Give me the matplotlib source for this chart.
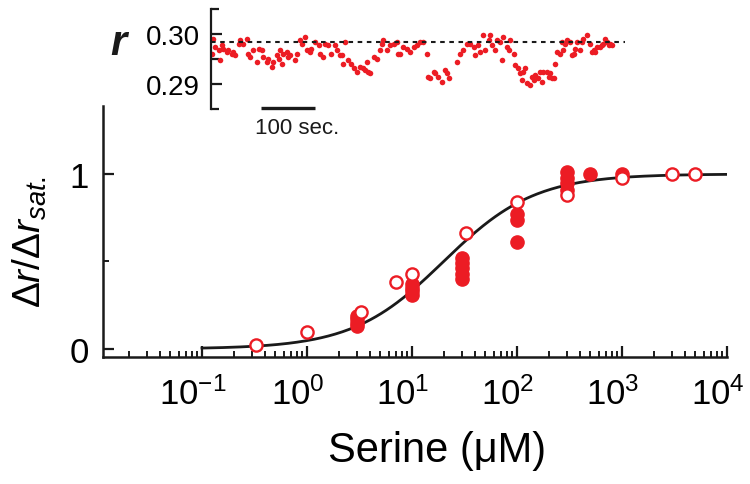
import matplotlib
matplotlib.use('Agg')
import matplotlib.pyplot as plt
import matplotlib.transforms as mtransforms
import numpy as np
from matplotlib.ticker import LogLocator, FixedLocator, NullFormatter

plt.rcParams['font.family'] = ['Liberation Sans', 'DejaVu Sans']
plt.rcParams['mathtext.fontset'] = 'custom'
plt.rcParams['mathtext.rm'] = 'Liberation Sans'
plt.rcParams['mathtext.it'] = 'Liberation Sans:italic'
plt.rcParams['mathtext.bf'] = 'Liberation Sans:bold'

red = '#ec1c24'
ink = '#1a1a1a'

# dose response (filled and open symbols = two data sets)
serine_filled = [3, 3, 3, 3, 10, 10, 10, 10, 30, 30, 30, 30, 30,
                 100, 100, 100, 300, 300, 300, 300, 500, 1000]
resp_filled = [0.13, 0.15, 0.17, 0.19, 0.31, 0.33, 0.35, 0.37, 0.40, 0.43, 0.46, 0.49, 0.52,
               0.61, 0.74, 0.77, 0.91, 0.95, 0.98, 1.01, 1.0, 1.0]
serine_open = [0.33, 1, 3.3, 7, 10, 33, 100, 300, 1000, 3000, 5000]
resp_open = [0.02, 0.097, 0.21, 0.38, 0.43, 0.66, 0.84, 0.88, 0.975, 1.0, 1.0]

# Hill fit parameters
k_half = 20.0
hill_n = 1.0

# inset: anisotropy trace
t_sec = [1, 4, 7, 14, 17, 20, 23, 29, 32, 38, 41, 44, 51, 54, 60, 66, 69, 72, 78, 85,
         88, 94, 97, 103, 106, 112, 115, 122, 125, 128, 131, 134, 140, 143, 146, 156, 159, 165, 168, 174,
         177, 183, 186, 193, 199, 202, 208, 211, 217, 223, 230, 233, 239, 242, 245, 248, 254, 260, 264, 270,
         276, 282, 285, 288, 291, 294, 301, 307, 313, 316, 319, 325, 331, 338, 344, 347, 350, 356, 362, 369,
         375, 381, 387, 393, 399, 402, 406, 412, 415, 421, 427, 433, 436, 440,
         455, 461, 467, 473, 480, 486, 489, 495, 498, 504, 507, 514, 517, 520, 526, 529, 535, 538, 541, 548,
         551, 554, 560, 563, 569, 572, 575, 578, 581, 585, 591, 594, 597, 600, 606, 609, 612, 615, 622, 625,
         628, 631, 634, 637, 640, 646, 649, 652, 656, 659, 665, 668, 671, 674, 677, 683, 686, 689, 696, 702,
         705, 708, 711, 714, 720, 723, 726, 730, 733, 736, 739, 742]
r_trace = [0.2961, 0.2991, 0.2975, 0.2968, 0.2948, 0.2978, 0.2971, 0.2965, 0.2968, 0.2961,
           0.2965, 0.2958, 0.2981, 0.2988, 0.2981, 0.2989, 0.2961, 0.2955, 0.2968, 0.2945,
           0.2971, 0.2968, 0.2955, 0.2945, 0.2951, 0.2935, 0.2945, 0.2958, 0.2951, 0.2968,
           0.2941, 0.2961, 0.2965, 0.2955, 0.2958, 0.2948, 0.2961, 0.2988, 0.2981, 0.2993,
           0.2968, 0.2965, 0.2971, 0.2985, 0.2978, 0.2961, 0.2955, 0.2981, 0.2978, 0.2961,
           0.2978, 0.2968, 0.2958, 0.2958, 0.2941, 0.2985, 0.2948, 0.2941, 0.2931, 0.2925,
           0.2935, 0.2931, 0.2928, 0.2945, 0.2925, 0.2921, 0.2955, 0.2951, 0.2968, 0.2981,
           0.2988, 0.2968, 0.2978, 0.2981, 0.2985, 0.2961, 0.2961, 0.2975, 0.2971, 0.2965,
           0.2975, 0.2978, 0.2985, 0.2985, 0.2961, 0.2915, 0.2911, 0.2925, 0.2921, 0.2915,
           0.2905, 0.2928, 0.2921, 0.2911,
           0.2945, 0.2961, 0.2968, 0.2981, 0.2981, 0.2975, 0.2958, 0.2978, 0.2965, 0.2998,
           0.2968, 0.2988, 0.2998, 0.2978, 0.2968, 0.2988, 0.2985, 0.2948, 0.2993, 0.2975,
           0.2968, 0.2988, 0.2961, 0.2938, 0.2931, 0.2921, 0.2908, 0.2925, 0.2931, 0.2901,
           0.2898, 0.2915, 0.2908, 0.2918, 0.2911, 0.2925, 0.2905, 0.2925, 0.2925, 0.2915,
           0.2921, 0.2911, 0.2911, 0.2941, 0.2965, 0.2961, 0.2985, 0.2968, 0.2981, 0.2988,
           0.2985, 0.2958, 0.2961, 0.2971, 0.2985, 0.2968, 0.2985, 0.2991, 0.2998, 0.2981,
           0.2965, 0.2968, 0.2965, 0.2975, 0.2975, 0.2978, 0.2981, 0.2991, 0.2985, 0.2978,
           0.2981, 0.2978]
r_sat = 0.2984

fig = plt.figure(figsize=(7.5, 4.85), dpi=100)

# ---- main dose-response panel ----
ax = fig.add_axes([0.1373, 0.2619, 0.832, 0.5175])
x_fit = np.logspace(-1, 4, 300)
y_fit = x_fit**hill_n / (k_half**hill_n + x_fit**hill_n)
ax.plot(x_fit, y_fit, color=ink, lw=2.0, zorder=2)
ax.plot(serine_filled, resp_filled, 'o', color=red, ms=9.5, mec=red, zorder=3)
ax.plot(serine_open, resp_open, 'o', mfc='white', mec=red, mew=1.7, ms=8.8, zorder=4)

ax.set_xscale('log')
ax.set_xlim(0.0114, 1e4)
ax.set_ylim(-0.046, 1.389)
ax.xaxis.set_major_locator(LogLocator(base=10, numticks=10))
ax.xaxis.set_minor_locator(LogLocator(base=10, subs=np.arange(2, 10), numticks=20))
ax.xaxis.set_minor_formatter(NullFormatter())
ax.yaxis.set_major_locator(FixedLocator([0, 1]))
ax.yaxis.set_minor_locator(FixedLocator([0.5]))
ax.set_yticklabels(['0', '1'])

for side in ['top', 'right']:
    ax.spines[side].set_visible(False)
for side in ['left', 'bottom']:
    ax.spines[side].set_linewidth(1.8)
    ax.spines[side].set_color(ink)
ax.tick_params(which='major', direction='in', length=8, width=1.6, color=ink, labelsize=25)
ax.tick_params(which='minor', direction='in', length=4, width=1.4, color=ink)
ax.tick_params(axis='x', which='major', labelsize=25, pad=14)
ax.tick_params(axis='y', which='major', pad=10)

# the reference sets the "10" slightly left of each decade tick
shift = mtransforms.ScaledTranslation(-9 / 100, 0, fig.dpi_scale_trans)
for lbl in ax.get_xticklabels():
    lbl.set_transform(lbl.get_transform() + shift)

ax.set_xlabel('Serine (\u03bcM)', fontsize=30)
ax.xaxis.set_label_coords(0.535, -0.37)
ax.xaxis.label.set_verticalalignment('center')
ax.set_ylabel(r'$\Delta r/\Delta r_{sat.}$', fontsize=28)
ax.yaxis.set_label_coords(-0.117, 0.462)
ax.yaxis.label.set_verticalalignment('center')

# ---- inset trace ----
axi = fig.add_axes([211 / 750, 1 - 110 / 485, 416 / 750, 100 / 485])
axi.plot(t_sec, r_trace, 'o', color=red, ms=4.0, mec='none')
axi.plot([0, 767], [r_sat, r_sat], color=ink, lw=1.5, ls=(0, (2.2, 2.2)))
axi.set_xlim(0, 770)
axi.set_ylim(0.285, 0.305)
for side in ['top', 'right', 'bottom']:
    axi.spines[side].set_visible(False)
axi.spines['left'].set_linewidth(1.6)
axi.spines['left'].set_color(ink)
axi.set_xticks([])
axi.yaxis.set_major_locator(FixedLocator([0.29, 0.30]))
axi.yaxis.set_minor_locator(FixedLocator([0.285, 0.295, 0.305]))
axi.set_yticklabels(['0.29', '0.30'])
axi.tick_params(which='major', direction='in', length=8, width=1.6, color=ink, labelsize=20, pad=8)
axi.tick_params(which='minor', direction='in', length=6, width=1.6, color=ink)

# scale bar
axi.plot([93, 193], [0.2852, 0.2852], color=ink, lw=2.4, clip_on=False, solid_capstyle='butt')
axi.text(81, 0.2812, '100 sec.', fontsize=16, ha='left', va='center', color=ink)

fig.text(118 / 750, 1 - 44 / 485, 'r', fontsize=30, fontweight='bold', style='italic',
         ha='center', va='center', color=ink)

fig.savefig('out.png', dpi=100)
